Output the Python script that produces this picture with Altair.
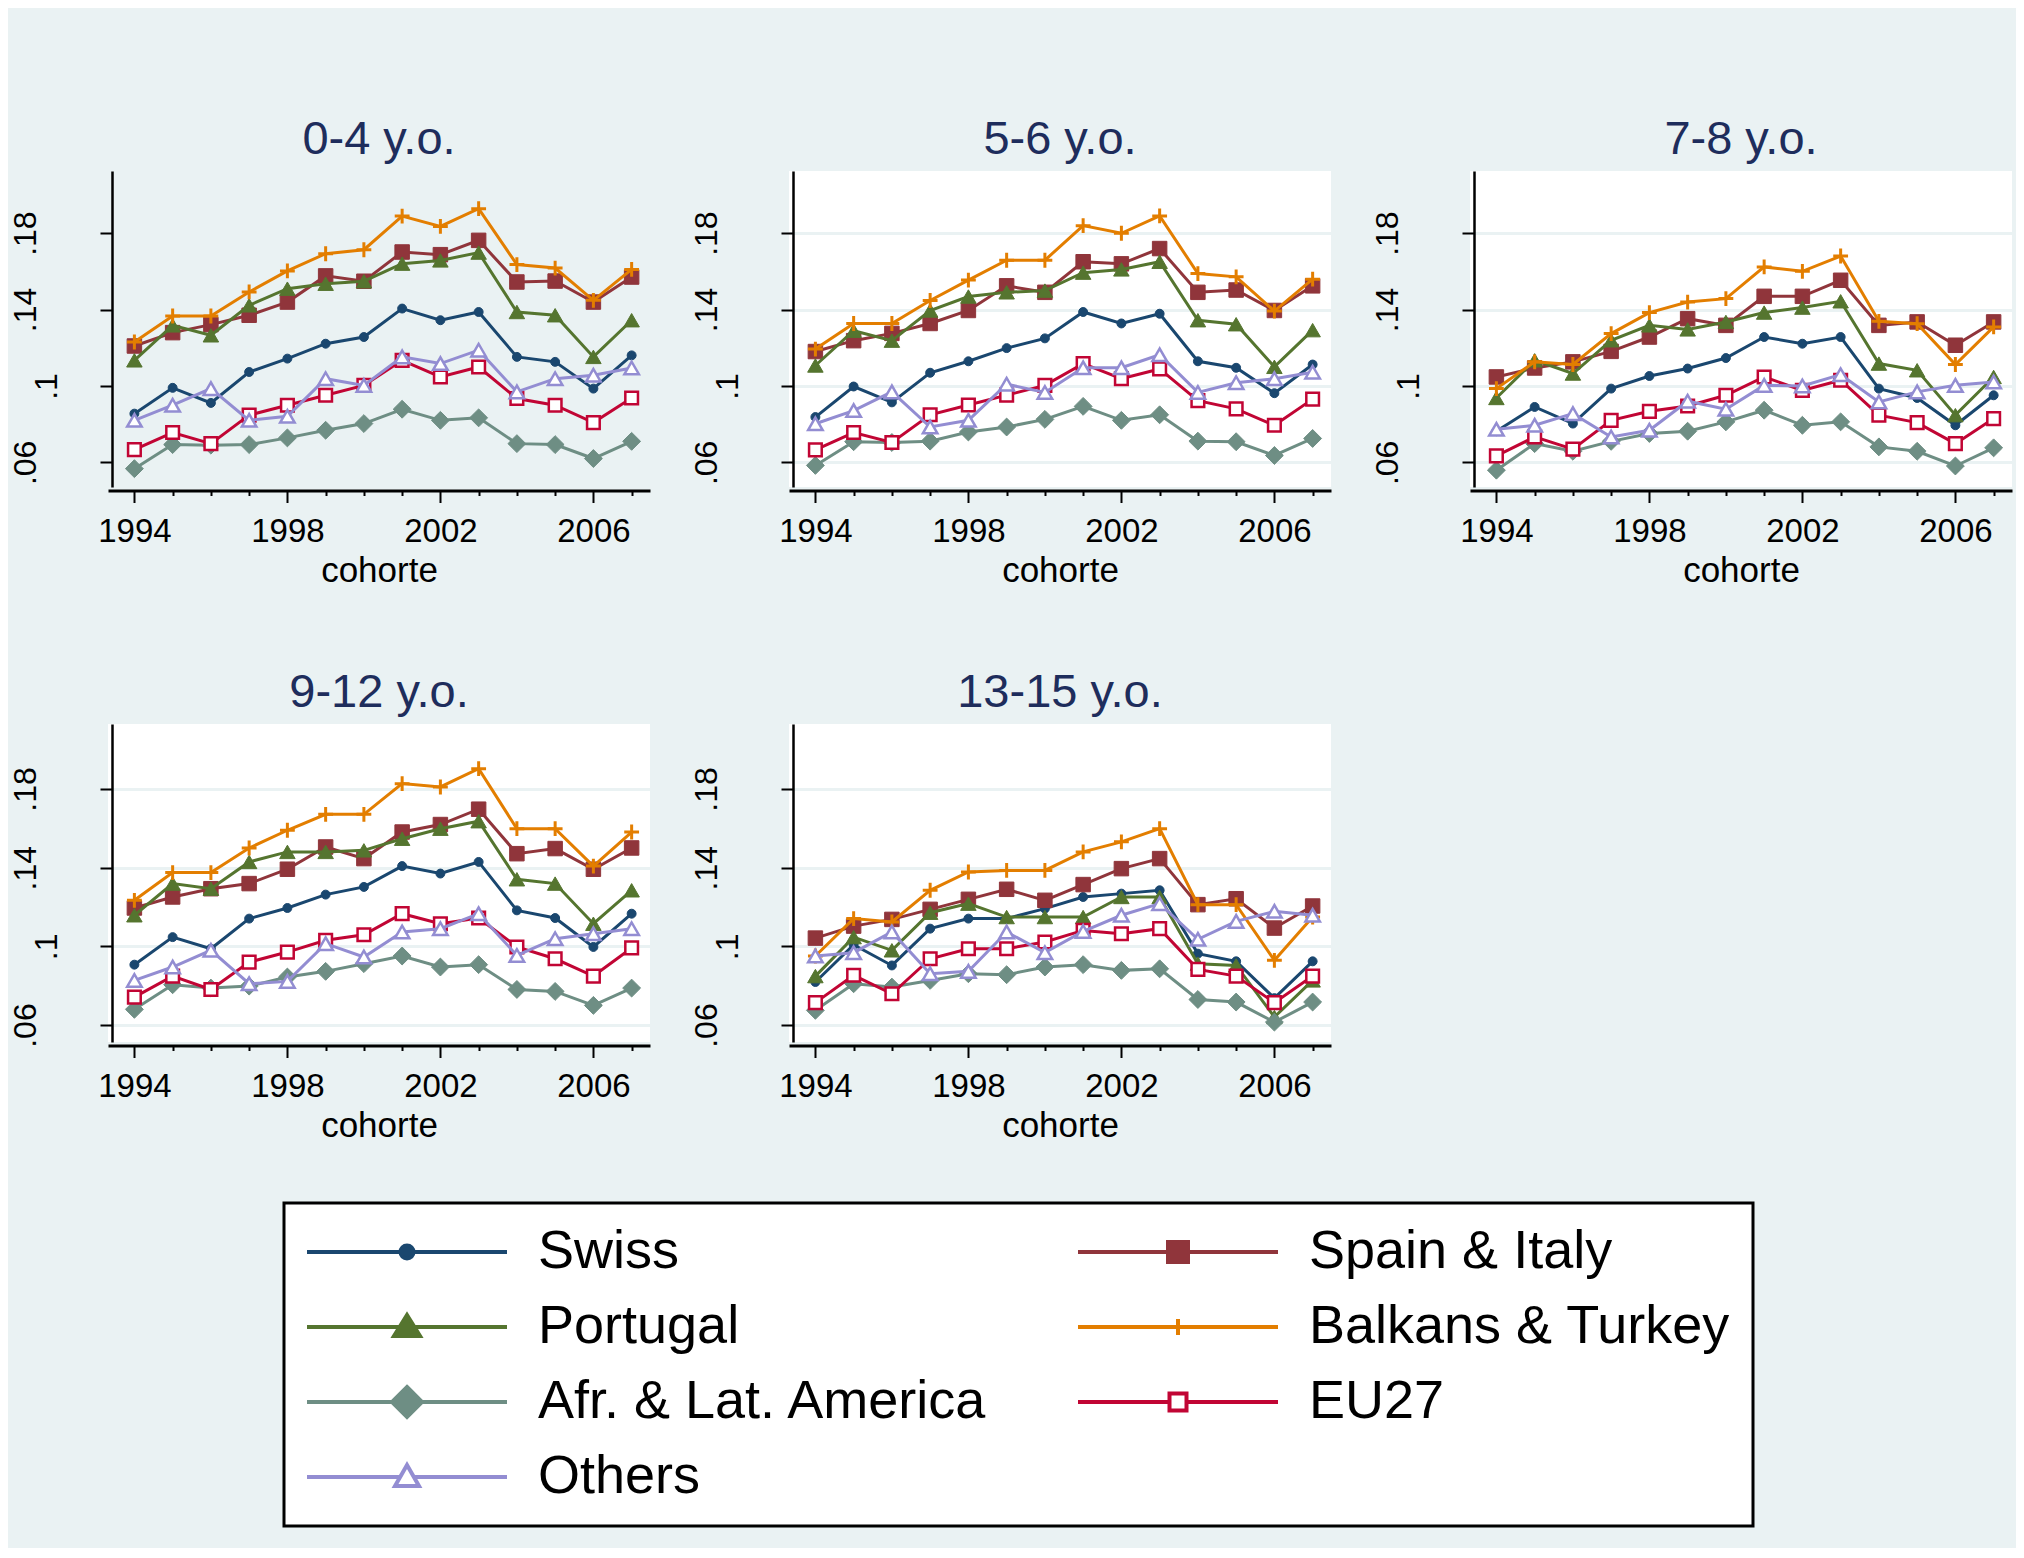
import altair as alt
import pandas as pd

YEARS = list(range(1994, 2008))
SERIES = ["Swiss", "Spain & Italy", "Portugal", "Balkans & Turkey",
          "Afr. & Lat. America", "EU27", "Others"]
COLORS = ["#1a476f", "#90353b", "#55752f", "#e37e00", "#6e8e84", "#c10534", "#938dd2"]
FILLS = ["#1a476f", "#90353b", "#55752f", "#e37e00", "#6e8e84", "#ffffff", "#ffffff"]
# legend is filled column by column: left column first, then right column
LEGEND_ORDER = ["Swiss", "Portugal", "Afr. & Lat. America", "Others",
                "Spain & Italy", "Balkans & Turkey", "EU27"]

p_0_4 = {
    "Swiss": [.0855, .0990, .0911, .1073, .1143, .1221, .1256, .1405, .1344, .1387, .1152, .1126, .0986, .1160],
    "Spain & Italy": [.1209, .1279, .1321, .1370, .1439, .1576, .1548, .1701, .1687, .1762, .1544, .1549, .1439, .1570],
    "Portugal": [.1134, .1317, .1265, .1422, .1509, .1535, .1548, .1640, .1657, .1698, .1387, .1370, .1152, .1344],
    "Balkans & Turkey": [.1230, .1366, .1366, .1492, .1602, .1692, .1713, .1889, .1835, .1928, .1635, .1617, .1448, .1610],
    "Afr. & Lat. America": [.0567, .0693, .0690, .0693, .0728, .0768, .0803, .0878, .0820, .0833, .0698, .0693, .0620, .0710],
    "EU27": [.0667, .0756, .0698, .0847, .0899, .0951, .1003, .1134, .1047, .1099, .0934, .0899, .0808, .0937],
    "Others": [.0820, .0899, .0986, .0820, .0841, .1038, .1003, .1152, .1117, .1187, .0969, .1038, .1056, .1094],
}
p_5_6 = {
    "Swiss": [.0837, .0997, .0914, .1069, .1129, .1198, .1249, .1387, .1327, .1378, .1129, .1095, .0962, .1112],
    "Spain & Italy": [.1180, .1237, .1275, .1327, .1395, .1524, .1490, .1650, .1639, .1719, .1490, .1502, .1395, .1524],
    "Portugal": [.1107, .1289, .1237, .1395, .1468, .1490, .1499, .1593, .1610, .1650, .1344, .1323, .1100, .1292],
    "Balkans & Turkey": [.1193, .1327, .1327, .1447, .1554, .1658, .1658, .1839, .1799, .1890, .1588, .1571, .1392, .1559],
    "Afr. & Lat. America": [.0584, .0708, .0704, .0711, .0759, .0785, .0825, .0893, .0820, .0849, .0711, .0708, .0636, .0725],
    "EU27": [.0665, .0756, .0704, .0849, .0900, .0952, .1003, .1117, .1038, .1089, .0923, .0880, .0794, .0931],
    "Others": [.0802, .0871, .0969, .0785, .0820, .1009, .0966, .1095, .1095, .1163, .0966, .1017, .1038, .1072],
}
p_7_8 = {
    "Swiss": [.0763, .0890, .0803, .0986, .1052, .1091, .1146, .1256, .1221, .1256, .0986, .0937, .0794, .0951],
    "Spain & Italy": [.1047, .1094, .1126, .1181, .1256, .1352, .1317, .1469, .1469, .1553, .1317, .1335, .1213, .1335],
    "Portugal": [.0937, .1134, .1065, .1239, .1317, .1296, .1335, .1384, .1410, .1443, .1117, .1082, .0847, .1047],
    "Balkans & Turkey": [.0986, .1126, .1112, .1274, .1384, .1439, .1457, .1623, .1600, .1680, .1338, .1326, .1112, .1309],
    "Afr. & Lat. America": [.0559, .0698, .0658, .0710, .0751, .0763, .0812, .0873, .0794, .0812, .0681, .0658, .0581, .0676],
    "EU27": [.0634, .0733, .0669, .0820, .0867, .0895, .0951, .1047, .0977, .1030, .0847, .0808, .0698, .0829],
    "Others": [.0773, .0794, .0855, .0733, .0768, .0920, .0878, .1003, .1000, .1059, .0916, .0969, .1003, .1021],
}
p_9_12 = {
    "Swiss": [.0907, .1047, .0988, .1141, .1195, .1263, .1302, .1408, .1370, .1429, .1183, .1144, .0997, .1166],
    "Spain & Italy": [.1195, .1251, .1293, .1319, .1392, .1505, .1446, .1581, .1619, .1697, .1471, .1497, .1392, .1500],
    "Portugal": [.1158, .1319, .1293, .1429, .1480, .1480, .1488, .1547, .1598, .1636, .1341, .1319, .1115, .1285],
    "Balkans & Turkey": [.1234, .1375, .1375, .1500, .1590, .1671, .1671, .1827, .1810, .1903, .1598, .1598, .1408, .1581],
    "Afr. & Lat. America": [.0680, .0805, .0788, .0798, .0844, .0873, .0912, .0951, .0895, .0907, .0781, .0771, .0700, .0788],
    "EU27": [.0742, .0849, .0781, .0920, .0971, .1031, .1059, .1166, .1115, .1144, .0997, .0937, .0849, .0992],
    "Others": [.0827, .0895, .0980, .0810, .0822, .1014, .0946, .1073, .1090, .1166, .0954, .1039, .1064, .1090],
}
p_13_15 = {
    "Swiss": [.0819, .1008, .0903, .1090, .1141, .1141, .1192, .1251, .1268, .1285, .0963, .0924, .0737, .0924],
    "Spain & Italy": [.1042, .1103, .1137, .1188, .1239, .1290, .1234, .1314, .1395, .1446, .1212, .1242, .1093, .1205],
    "Portugal": [.0849, .1047, .0980, .1171, .1217, .1149, .1149, .1149, .1251, .1251, .0912, .0903, .0641, .0827],
    "Balkans & Turkey": [.0951, .1141, .1124, .1285, .1378, .1386, .1386, .1480, .1531, .1598, .1212, .1212, .0929, .1149],
    "Afr. & Lat. America": [.0675, .0810, .0793, .0827, .0861, .0856, .0895, .0907, .0878, .0886, .0730, .0717, .0615, .0717],
    "EU27": [.0714, .0853, .0759, .0937, .0988, .0988, .1022, .1081, .1064, .1090, .0883, .0849, .0714, .0849],
    "Others": [.0951, .0968, .1073, .0861, .0873, .1073, .0968, .1076, .1158, .1217, .1036, .1127, .1178, .1158],
}

PANELS = [("0-4 y.o.", p_0_4), ("5-6 y.o.", p_5_6), ("7-8 y.o.", p_7_8),
          ("9-12 y.o.", p_9_12), ("13-15 y.o.", p_13_15)]
Y_TICKS = [0.06, 0.1, 0.14, 0.18]
X_DOMAIN = [1993.31, 2007.48]
ROW_Y_DOMAIN = [[0.0471, 0.2125], [0.0514, 0.2130]]
ROW_HEIGHT = [316, 318]
PANEL_WIDTH = 542

FONT = "Liberation Sans, Arial, Helvetica, sans-serif"
BG = "#eaf2f3"

# plot markers
PLOT_MARKS = {
    "Swiss": dict(shape="circle", size=80, filled=True),
    "Spain & Italy": dict(shape="square", size=210, filled=True),
    "Portugal": dict(shape="triangle-up", size=240, filled=True),
    "Balkans & Turkey": dict(shape="M-1,0H1M0,-1V1", size=220, filled=False, strokeWidth=3),
    "Afr. & Lat. America": dict(shape="diamond", size=320, filled=True),
    "EU27": dict(shape="square", size=160, filled=True, fill="white", strokeWidth=2.5),
    "Others": dict(shape="triangle-up", size=210, filled=True, fill="white", strokeWidth=2.5),
}
# legend symbols: line + marker
LEG_PATHS = {
    "Swiss": "M-10,0H10M-0.65,0A0.65,0.65,0,1,0,0.65,0A0.65,0.65,0,1,0,-0.65,0Z",
    "Spain & Italy": "M-10,0H10M-1,-1H1V1H-1Z",
    "Portugal": "M-10,0H10M0,-1.2L1.3,0.9H-1.3Z",
    "Balkans & Turkey": "M-10,0H10M0,-0.8V0.8",
    "Afr. & Lat. America": "M-10,0H10M0,-1.5L1.5,0L0,1.5L-1.5,0Z",
    "EU27": "M-10,0H-0.85M0.85,0H10M-0.85,-0.85H0.85V0.85H-0.85Z",
    "Others": "M-10,0H-0.69M0.69,0H10M0,-1.2L1.2,0.9H-1.2Z",
}
COLOR_OF = dict(zip(SERIES, COLORS))
FILL_OF = dict(zip(SERIES, FILLS))


def make_panel(idx, title, vals):
    row = idx // 3
    rows = []
    for s in SERIES:
        for yr, v in zip(YEARS, vals[s]):
            rows.append({"series": s, "year": yr, "value": v})
    df = pd.DataFrame(rows)
    base = alt.Chart(df)

    x_axis = alt.Axis(
        values=YEARS, format="d", labelExpr="datum.value % 4 == 2 ? datum.label : ''",
        labelOverlap=False, labelFlush=False, grid=False,
        tickSize={"condition": {"test": "datum.value % 4 == 2", "value": 12}, "value": 5},
        tickWidth=2, tickColor="black", domainColor="black", domainWidth=3,
        labelFont=FONT, labelFontSize=33, labelColor="black", labelPadding=13,
        titleFont=FONT, titleFontSize=35, titleFontWeight="normal", titleColor="black",
        titlePadding=5, offset=3.5,
    )
    y_axis = alt.Axis(
        values=Y_TICKS, labelExpr="replace(format(datum.value, '.2~f'), '0.', '.')",
        labelAngle=270, labelAlign="center", labelBaseline="bottom",
        labelPadding={"condition": {"test": "abs(datum.value - 0.1) < 0.001", "value": 37}, "value": 58},
        labelOverlap=False, labelFlush=False,
        tickSize=12, tickWidth=2, tickColor="black", domainColor="black", domainWidth=2.5,
        grid=True, gridColor=BG, gridWidth=3,
        labelFont=FONT, labelFontSize=32, labelColor="black", offset=-4,
    )
    x = alt.X("year:Q", scale=alt.Scale(domain=X_DOMAIN, nice=False, zero=False),
              axis=x_axis, title="cohorte")
    y = alt.Y("value:Q", scale=alt.Scale(domain=ROW_Y_DOMAIN[row], nice=False, zero=False),
              axis=y_axis, title=None)

    layers = []
    for s, col in zip(SERIES, COLORS):
        sub = base.transform_filter(alt.datum.series == s)
        layers.append(sub.mark_line(color=col, strokeWidth=3).encode(x=x, y=y))
        st = dict(PLOT_MARKS[s])
        if st.get("filled") and "fill" not in st:
            st["fill"] = col
        st.setdefault("strokeWidth", 1)
        layers.append(sub.mark_point(stroke=col, opacity=1, **st).encode(x=x, y=y))

    if idx == 0:
        leg = alt.Legend(
            title=None, orient="none", legendX=176, legendY=1032, columns=2,
            symbolSize=400, symbolStrokeWidth=4, symbolOffset=74, labelOffset=104,
            columnPadding=81, rowPadding=21, padding=22,
            labelFont=FONT, labelFontSize=54, labelColor="black", labelLimit=2000,
            strokeColor="black", fillColor="white",
        )
        layers.append(
            base.transform_filter("false").mark_point(filled=True, opacity=1, strokeWidth=4).encode(
                shape=alt.Shape("series:N", scale=alt.Scale(
                    domain=LEGEND_ORDER, range=[LEG_PATHS[s] for s in LEGEND_ORDER]), legend=leg),
                stroke=alt.Stroke("series:N", scale=alt.Scale(
                    domain=LEGEND_ORDER, range=[COLOR_OF[s] for s in LEGEND_ORDER]), legend=leg),
                fill=alt.Fill("series:N", scale=alt.Scale(
                    domain=LEGEND_ORDER, range=[FILL_OF[s] for s in LEGEND_ORDER]), legend=leg),
            )
        )

    return alt.layer(*layers).properties(
        width=PANEL_WIDTH, height=ROW_HEIGHT[row],
        title=alt.Title(title, font=FONT, fontSize=47, fontWeight="normal", color="#1e2d5c",
                        anchor="middle", offset=7),
    )


panels = [make_panel(i, t, v) for i, (t, v) in enumerate(PANELS)]

chart = alt.concat(
    *panels, columns=3, spacing={"row": 237, "column": 139}, bounds="flush"
).properties(
    background=BG,
    padding={"left": 0, "top": 108, "right": 4, "bottom": 20},
).configure_view(fill="white", stroke=None)

try:
    trial = chart.configure_legend(strokeWidth=3)
    trial.to_dict()
    chart = trial
except Exception:
    pass

chart.save("out.html", embed_options={"renderer": "svg", "actions": False})
